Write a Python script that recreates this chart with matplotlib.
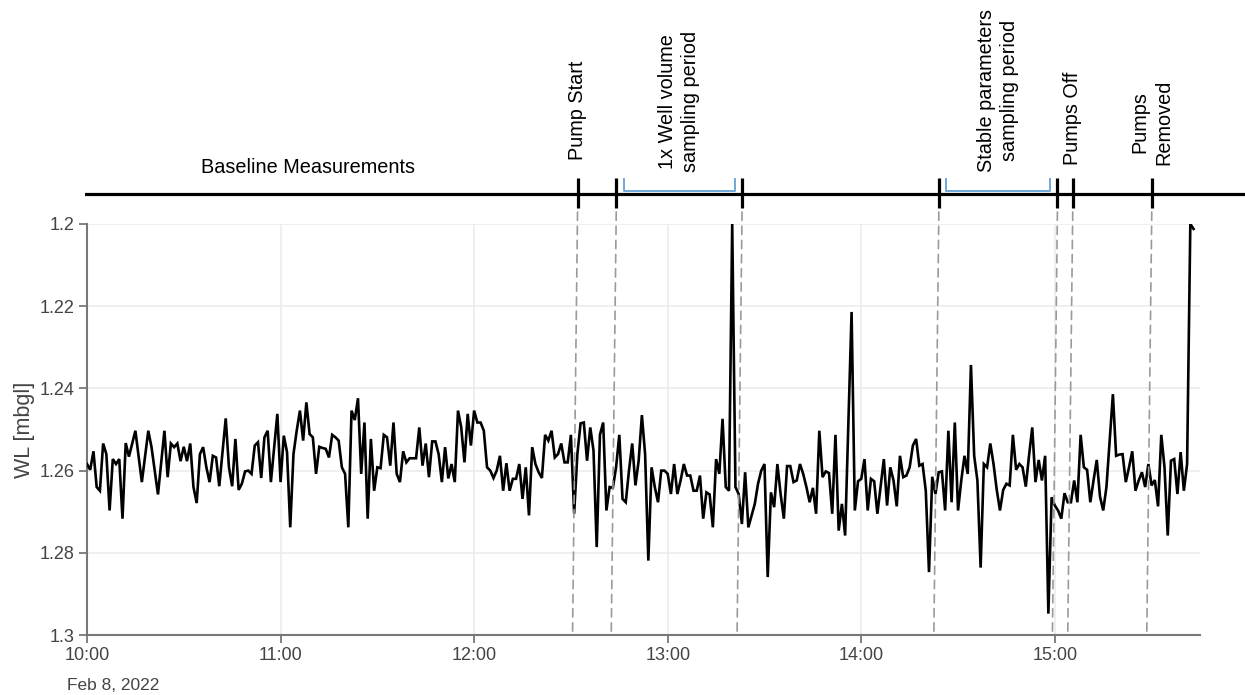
import pandas as pd
import matplotlib
matplotlib.use("Agg")
import matplotlib.pyplot as plt
import matplotlib.dates as mdates
from matplotlib.patches import ConnectionPatch
from matplotlib.ticker import FuncFormatter

plt.rcParams['font.family'] = ['Liberation Sans', 'DejaVu Sans']

# Water level logger, 8 Feb 2022 (minutes after 10:00, depth below ground)
day = "2022-02-08"
t_start = "10:00"
t_end = "15:45"
minute = [
    0, 1, 2, 3, 4, 5, 6, 7, 8, 9, 10, 11, 12, 13, 15, 17, 19, 20, 22, 24,
    25, 26, 27, 28, 29, 30, 31, 32, 33, 34, 35, 36, 37, 38, 39, 40, 41, 43, 44, 45,
    46, 47, 48, 49, 50, 51, 52, 53, 54, 55, 56, 57, 59, 60, 61, 62, 63, 64, 65, 66,
    67, 68, 69, 70, 71, 72, 73, 74, 75, 76, 77, 78, 79, 80, 81, 82, 83, 84, 85, 86,
    87, 88, 89, 90, 91, 92, 93, 94, 95, 96, 97, 98, 99, 100, 102, 103, 104, 105, 106, 107,
    108, 109, 110, 111, 112, 113, 114, 115, 116, 117, 118, 119, 120, 121, 122, 123, 124, 125, 126, 127,
    128, 129, 130, 131, 132, 133, 134, 135, 136, 137, 138, 139, 140, 141, 142, 143, 144, 145, 146, 147,
    148, 149, 150, 151, 152, 153, 154, 155, 156, 157, 158, 159, 160, 161, 162, 163, 164, 165, 166, 167,
    168, 169, 170, 171, 172, 173, 174, 175, 176, 177, 178, 179, 180, 181, 182, 183, 184, 185, 186, 187,
    188, 189, 190, 191, 192, 193, 194, 195, 196, 197, 198, 199, 200, 201, 202, 203, 204, 205, 206, 207,
    208, 209, 210, 211, 212, 213, 214, 215, 216, 217, 218, 219, 220, 221, 222, 223, 224, 225, 226, 227,
    228, 229, 230, 231, 232, 233, 234, 235, 237, 238, 239, 240, 241, 242, 243, 244, 245, 247, 248, 249,
    250, 251, 252, 253, 254, 255, 256, 257, 258, 259, 260, 261, 262, 263, 264, 265, 266, 267, 268, 269,
    270, 271, 272, 273, 274, 275, 276, 277, 278, 279, 280, 281, 282, 283, 284, 285, 286, 287, 288, 289,
    290, 291, 292, 293, 294, 295, 296, 297, 298, 299, 300, 301, 302, 303, 304, 305, 306, 307, 308, 309,
    310, 311, 312, 313, 314, 315, 316, 318, 319, 320, 321, 322, 323, 324, 325, 326, 327, 328, 329, 330,
    331, 332, 333, 334, 335, 336, 337, 338, 339, 340, 341, 342, 343,
]
wl = [
    1.2584, 1.2598, 1.2553, 1.2640, 1.2649, 1.2534, 1.2560, 1.2697, 1.2572, 1.2584,
    1.2572, 1.2717, 1.2533, 1.2566, 1.2503, 1.2628, 1.2503, 1.2543, 1.2658, 1.2503,
    1.2616, 1.2534, 1.2543, 1.2534, 1.2577, 1.2542, 1.2577, 1.2534, 1.2640, 1.2679,
    1.2560, 1.2543, 1.2592, 1.2628, 1.2564, 1.2568, 1.2638, 1.2473, 1.2592, 1.2638,
    1.2523, 1.2647, 1.2632, 1.2602, 1.2600, 1.2608, 1.2539, 1.2531, 1.2618, 1.2519,
    1.2503, 1.2628, 1.2462, 1.2628, 1.2515, 1.2555, 1.2738, 1.2560, 1.2503, 1.2454,
    1.2527, 1.2434, 1.2511, 1.2519, 1.2608, 1.2542, 1.2545, 1.2547, 1.2568, 1.2513,
    1.2519, 1.2527, 1.2592, 1.2608, 1.2738, 1.2454, 1.2477, 1.2424, 1.2608, 1.2483,
    1.2717, 1.2523, 1.2649, 1.2592, 1.2594, 1.2513, 1.2519, 1.2588, 1.2483, 1.2608,
    1.2628, 1.2553, 1.2580, 1.2570, 1.2570, 1.2495, 1.2588, 1.2534, 1.2616, 1.2529,
    1.2529, 1.2560, 1.2628, 1.2543, 1.2619, 1.2584, 1.2628, 1.2454, 1.2495, 1.2580,
    1.2462, 1.2539, 1.2454, 1.2483, 1.2483, 1.2503, 1.2592, 1.2600, 1.2618, 1.2600,
    1.2564, 1.2649, 1.2582, 1.2649, 1.2620, 1.2620, 1.2584, 1.2669, 1.2592, 1.2709,
    1.2543, 1.2584, 1.2604, 1.2618, 1.2513, 1.2527, 1.2503, 1.2568, 1.2560, 1.2534,
    1.2580, 1.2580, 1.2513, 1.2705, 1.2560, 1.2485, 1.2483, 1.2576, 1.2495, 1.2551,
    1.2786, 1.2513, 1.2483, 1.2697, 1.2640, 1.2642, 1.2592, 1.2513, 1.2669, 1.2677,
    1.2600, 1.2534, 1.2636, 1.2576, 1.2465, 1.2560, 1.2819, 1.2592, 1.2640, 1.2677,
    1.2600, 1.2600, 1.2608, 1.2657, 1.2584, 1.2657, 1.2624, 1.2584, 1.2612, 1.2612,
    1.2649, 1.2649, 1.2612, 1.2717, 1.2653, 1.2658, 1.2738, 1.2572, 1.2608, 1.2474,
    1.2640, 1.2649, 1.2000, 1.2640, 1.2657, 1.2730, 1.2604, 1.2738, 1.2709, 1.2681,
    1.2632, 1.2600, 1.2584, 1.2859, 1.2653, 1.2689, 1.2584, 1.2657, 1.2717, 1.2589,
    1.2589, 1.2628, 1.2624, 1.2584, 1.2608, 1.2640, 1.2677, 1.2642, 1.2705, 1.2503,
    1.2616, 1.2602, 1.2606, 1.2705, 1.2513, 1.2746, 1.2681, 1.2758, 1.2214, 1.2697,
    1.2626, 1.2620, 1.2572, 1.2697, 1.2620, 1.2626, 1.2705, 1.2572, 1.2685, 1.2592,
    1.2624, 1.2687, 1.2564, 1.2616, 1.2612, 1.2592, 1.2539, 1.2523, 1.2588, 1.2584,
    1.2649, 1.2847, 1.2615, 1.2657, 1.2604, 1.2602, 1.2697, 1.2503, 1.2677, 1.2483,
    1.2697, 1.2624, 1.2564, 1.2608, 1.2343, 1.2564, 1.2624, 1.2836, 1.2584, 1.2592,
    1.2534, 1.2584, 1.2647, 1.2697, 1.2647, 1.2632, 1.2636, 1.2513, 1.2598, 1.2584,
    1.2592, 1.2639, 1.2564, 1.2495, 1.2628, 1.2574, 1.2624, 1.2564, 1.2948, 1.2665,
    1.2685, 1.2697, 1.2717, 1.2655, 1.2677, 1.2677, 1.2624, 1.2677, 1.2513, 1.2592,
    1.2598, 1.2677, 1.2624, 1.2574, 1.2663, 1.2697, 1.2640, 1.2414, 1.2564, 1.2561,
    1.2560, 1.2628, 1.2592, 1.2553, 1.2649, 1.2624, 1.2604, 1.2640, 1.2584, 1.2636,
    1.2623, 1.2687, 1.2513, 1.2592, 1.2758, 1.2576, 1.2572, 1.2657, 1.2555, 1.2649,
    1.2584, 1.2000, 1.2012,
]

# Field log markers
event_time = ["12:30:30", "12:42:30", "13:21:30", "14:22:30", "14:59:15", "15:04:00", "15:28:30"]
event_label = ["Pump Start", None, None, None, None, "Pumps Off", "Pumps\nRemoved"]
period_start = ["12:42:30", "14:22:30"]
period_end = ["13:21:30", "14:59:15"]
period_label = ["1x Well volume\nsampling period", "Stable parameters\nsampling period"]
baseline_label = "Baseline Measurements"
baseline_time = "11:07"

y_ticks = [1.2, 1.22, 1.24, 1.26, 1.28, 1.3]


def num(hhmm):
    return mdates.date2num(pd.Timestamp(f"{day} {hhmm}"))


W, H = 1245, 695
fig = plt.figure(figsize=(W / 100, H / 100), dpi=100)

# main water level panel
ax = fig.add_axes([87 / W, 1 - 635 / H, (1200 - 87) / W, (635 - 224) / H])
times = pd.Timestamp(f"{day} {t_start}") + pd.to_timedelta(minute, unit="min")
ax.plot(times, wl, color="black", lw=1.9, solid_joinstyle="miter", zorder=3)

ax.set_xlim(num(t_start), num(t_end))
ax.set_ylim(max(y_ticks), min(y_ticks))
ax.set_yticks(y_ticks)
ax.yaxis.set_major_formatter(FuncFormatter(lambda v, p: f"{v:g}"))
ax.xaxis.set_major_locator(mdates.HourLocator())
ax.xaxis.set_major_formatter(mdates.DateFormatter("%H:%M"))
ax.grid(True, color="#ebebeb", lw=1.1)
ax.set_axisbelow(True)
for side in ["top", "right"]:
    ax.spines[side].set_visible(False)
for side in ["left", "bottom"]:
    ax.spines[side].set_color("#777777")
    ax.spines[side].set_linewidth(1.5)
ax.tick_params(color="#777777", length=6, width=1.3, labelcolor="#444444",
               labelsize=13, pad=3)
ax.set_ylabel("WL [mbgl]", fontsize=15.5, color="#444444")
ax.yaxis.set_label_coords(-0.047, 0.5)
ax.annotate(pd.Timestamp(day).strftime("%b %-d, %Y"), xy=(num(t_start), 0),
            xycoords=("data", "axes fraction"), xytext=(-14.5, -36),
            textcoords="offset points", ha="left", va="center",
            fontsize=12.5, color="#444444")

# event timeline strip above the plot (y in pixel rows from the top)
ax_top = fig.add_axes([85 / W, 1 - 215 / H, (W - 85) / W, 215 / H])
ax_top.axis("off")
ax_top.set_ylim(215, 0)
shift = 5  # strip is drawn a few pixels right of the plot
px_per_day = (1200 - 87) / (num(t_end) - num(t_start))
ax_top.set_xlim(num(t_start) + (85 - 87 - shift) / px_per_day,
                num(t_start) + (W - 87 - shift) / px_per_day)

ax_top.axhline(194, color="black", lw=2.3)
ev = [num(t) for t in event_time]
ax_top.vlines(ev, 178, 208, color="black", lw=2.3)

inset = 2.3 / 1440
for s, e, lab in zip(period_start, period_end, period_label):
    a, b = num(s) + inset, num(e) - inset
    ax_top.plot([a, a, b, b], [179, 190.5, 190.5, 179], color="#6fa8dc", lw=1.4)
    ax_top.text((num(s) + num(e)) / 2, 172, lab, rotation=90, ha="center",
                va="bottom", fontsize=14.3, linespacing=1.3)

for t, lab in zip(ev, event_label):
    if lab:
        y = 160 if "Start" in lab else 165
        ax_top.text(t, y, lab, rotation=90, ha="center", va="bottom",
                    fontsize=14.3, linespacing=1.3)

ax_top.text(num(baseline_time), 177, baseline_label, ha="center", va="bottom",
            fontsize=14.3)

# dashed guides from each marker down to the time axis
for t in ev:
    con = ConnectionPatch(xyA=(t, 212), coordsA=ax_top.transData,
                          xyB=(t, max(y_ticks)), coordsB=ax.transData,
                          color="#9a9a9a", lw=1.2, linestyle=(0, (5, 3.5)))
    fig.add_artist(con)

fig.savefig("out.png", dpi=100)
